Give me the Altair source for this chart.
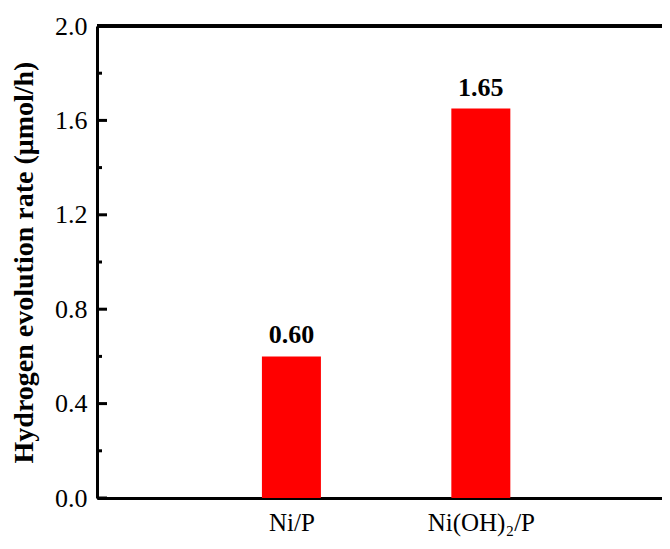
import altair as alt
import pandas as pd

categories = ["Ni/P", "Ni(OH)\u2082/P"]
positions = [1, 2]
rates = [0.60, 1.65]
major_ticks = [0.0, 0.4, 0.8, 1.2, 1.6, 2.0]
minor_ticks = [0.2, 0.6, 1.0, 1.4, 1.8]

W, H = 565, 472
FONT = "Liberation Serif"

df = pd.DataFrame({"cat": categories, "pos": positions, "rate": rates})
df_major = pd.DataFrame({"v": major_ticks})
df_minor = pd.DataFrame({"v": minor_ticks})

label_expr = " : ".join(
    [f"datum.value == {p} ? '{c}'" for p, c in zip(positions, categories)]
) + " : ''"

xscale = alt.Scale(domain=[0, 2.93], nice=False, zero=False)
yscale = alt.Scale(domain=[0, 2.0], nice=False)

bars = alt.Chart(df).mark_bar(size=59, color="#ff0000").encode(
    x=alt.X("pos:Q", scale=xscale,
            axis=alt.Axis(values=positions, labelExpr=label_expr, ticks=False, grid=False,
                          domainColor="black", domainWidth=3, labelFont=FONT, labelFontSize=25,
                          labelColor="black", labelPadding=12, title=None)),
    y=alt.Y("rate:Q", scale=yscale,
            axis=alt.Axis(values=major_ticks, format=".1f", ticks=False, grid=False,
                          domainColor="black", domainWidth=3, labelFont=FONT, labelFontSize=26,
                          labelColor="black", labelPadding=10,
                          title="Hydrogen evolution rate (\u03bcmol/h)", titleFont=FONT,
                          titleFontSize=28, titleFontWeight="bold", titleColor="black",
                          titlePadding=16)),
)

text = alt.Chart(df).mark_text(baseline="bottom", dy=-8, font=FONT, fontSize=26,
                               fontWeight="bold", color="black").encode(
    x=alt.X("pos:Q", scale=xscale),
    y=alt.Y("rate:Q", scale=yscale),
    text=alt.Text("rate:Q", format=".2f"),
)

major = alt.Chart(df_major).mark_rule(color="black", strokeWidth=3).encode(
    y=alt.Y("v:Q", scale=yscale), x=alt.value(0), x2=alt.value(10)
)
minor = alt.Chart(df_minor).mark_rule(color="black", strokeWidth=3).encode(
    y=alt.Y("v:Q", scale=yscale), x=alt.value(0), x2=alt.value(5)
)
top = alt.Chart(df_major).mark_rule(color="black", strokeWidth=3).encode(
    y=alt.value(0), x=alt.value(0), x2=alt.value(W)
)

chart = alt.layer(bars, text, major, minor, top).properties(
    width=W, height=H,
    autosize=alt.AutoSizeParams(type="none"),
    padding={"left": 89, "top": 18, "right": 0, "bottom": 41},
).configure_view(stroke=None)

chart.save("out.html", embed_options={"renderer": "svg", "actions": False})
